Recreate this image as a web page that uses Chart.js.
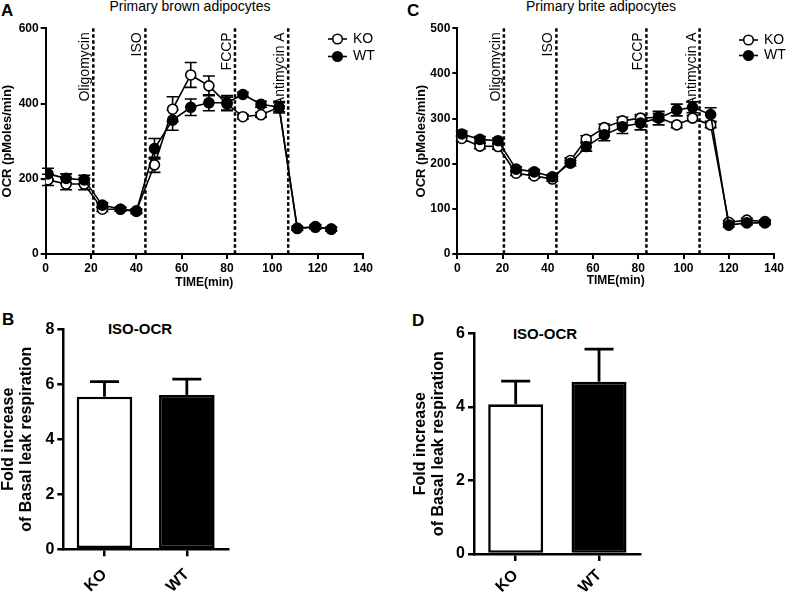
<!DOCTYPE html>
<html>
<head>
<meta charset="utf-8">
<script src="https://cdn.jsdelivr.net/npm/chart.js@4.4.0/dist/chart.umd.min.js"></script>
<style>
  body { margin:0; background:#fff; width:788px; height:594px; position:relative; overflow:hidden;
         font-family:"Liberation Sans", Arial, sans-serif; color:#000; }
  .box { position:absolute; }
  .letter { position:absolute; font-weight:bold; font-size:17px; line-height:1; }
  .ttl { position:absolute; font-size:14px; line-height:1; white-space:nowrap; transform:translateX(-50%); }
  .sub { position:absolute; font-size:15px; font-weight:bold; line-height:1; white-space:nowrap; transform:translateX(-50%); }
</style>
</head>
<body>
<div class="letter" style="left:1px;top:2px">A</div>
<div class="letter" style="left:407px;top:2px">C</div>
<div class="letter" style="left:2px;top:311px">B</div>
<div class="letter" style="left:412px;top:312px">D</div>
<div class="ttl" style="left:190px;top:-1px">Primary brown adipocytes</div>
<div class="ttl" style="left:601px;top:-1px">Primary brite adipocytes</div>
<div class="sub" style="left:140px;top:321px">ISO-OCR</div>
<div class="sub" style="left:545px;top:326px">ISO-OCR</div>

<div class="box" style="left:0;top:0"><canvas id="chartA" width="394" height="300"></canvas></div>
<div class="box" style="left:394px;top:0"><canvas id="chartC" width="394" height="300"></canvas></div>
<div class="box" style="left:0;top:300px"><canvas id="chartB" width="394" height="294"></canvas></div>
<div class="box" style="left:394px;top:300px"><canvas id="chartD" width="394" height="294"></canvas></div>

<script>
// panel A - primary brown adipocytes, OCR over time
var timeA  = [1, 9, 17, 25, 33, 40, 48, 56, 64, 72, 80, 87, 95, 103, 111, 119, 126];
var koA    = [197, 186, 186, 119, 119, 115, 237, 385, 476, 447, 399, 365, 370, 390, 68, 71, 66];
var koErrA = [15, 15, 15, 6, 5, 5, 20, 33, 33, 26, 18, 6, 6, 12, 5, 5, 5];
var wtA    = [213, 201, 197, 130, 119, 113, 280, 356, 390, 402, 402, 424, 398, 390, 68, 73, 66];
var wtErrA = [15, 12, 12, 6, 5, 5, 27, 27, 22, 21, 19, 6, 8, 15, 5, 5, 5];

// panel C - primary brite adipocytes
var timeC  = [2, 10, 18, 26, 34, 42, 50, 57, 65, 73, 81, 89, 97, 104, 112, 120, 128, 136];
var koC    = [256, 239, 238, 179, 173, 166, 207, 254, 280, 295, 301, 303, 286, 301, 286, 70, 75, 72];
var koErrC = [6, 6, 6, 5, 5, 5, 6, 8, 8, 8, 8, 8, 6, 6, 6, 4, 4, 4];
var wtC    = [266, 254, 251, 188, 182, 171, 201, 238, 264, 282, 290, 301, 319, 325, 309, 64, 69, 69];
var wtErrC = [6, 6, 6, 5, 5, 5, 6, 10, 13, 15, 15, 15, 13, 12, 15, 4, 4, 4];

// injection times
var injections = ["Oligomycin", "ISO", "FCCP", "Antimycin A"];
var injTimeA = [21, 44, 83.5, 107];
var injTimeC = [20.6, 43.8, 83.6, 107.1];

// panels B and D - fold increase bars
var groups = ["KO", "WT"];
var foldB = [5.55, 5.61];
var foldErrB = [0.55, 0.58];
var foldD = [4.07, 4.68];
var foldErrD = [0.63, 0.89];

Chart.defaults.font.family = '"Liberation Sans", Arial, sans-serif';
Chart.defaults.color = '#000';

// dashed injection lines + error bars, drawn under the points
var seahorse = {
  id: 'seahorse',
  beforeDatasetsDraw: function(chart, args, opts) {
    var ctx = chart.ctx, area = chart.chartArea;
    var xs = chart.scales.x, ys = chart.scales.y;
    ctx.save();
    ctx.strokeStyle = '#000';
    ctx.fillStyle = '#000';
    ctx.lineWidth = 2.5;
    ctx.setLineDash([3.5, 2.5]);
    opts.inj.forEach(function(t, i) {
      var px = xs.getPixelForValue(t);
      ctx.beginPath();
      ctx.moveTo(px, area.top);
      ctx.lineTo(px, area.bottom);
      ctx.stroke();
      ctx.save();
      ctx.translate(px - 4, area.top + 4);
      ctx.rotate(-Math.PI / 2);
      ctx.font = '14px "Liberation Sans", Arial, sans-serif';
      ctx.textAlign = 'right';
      ctx.textBaseline = 'alphabetic';
      ctx.fillText(injections[i], 0, 0);
      ctx.restore();
    });
    ctx.setLineDash([]);
    ctx.lineWidth = 1.6;
    opts.errs.forEach(function(err, k) {
      var meta = chart.getDatasetMeta(k);
      var vals = chart.data.datasets[k].data;
      meta.data.forEach(function(pt, j) {
        var v = vals[j].y;
        var y1 = ys.getPixelForValue(v + err[j]);
        var y2 = ys.getPixelForValue(v - err[j]);
        ctx.beginPath();
        ctx.moveTo(pt.x, y1); ctx.lineTo(pt.x, y2);
        ctx.moveTo(pt.x - 6, y1); ctx.lineTo(pt.x + 6, y1);
        ctx.moveTo(pt.x - 6, y2); ctx.lineTo(pt.x + 6, y2);
        ctx.stroke();
      });
    });
    ctx.restore();
  },
  afterDraw: function(chart, args, opts) {
    // legend in the top right corner
    var ctx = chart.ctx;
    ctx.save();
    ctx.lineWidth = 1.6;
    ctx.strokeStyle = '#000';
    ctx.font = '14px "Liberation Sans", Arial, sans-serif';
    ctx.textBaseline = 'middle';
    groups.forEach(function(g, i) {
      var y = opts.key.y + i * opts.key.gap, x = opts.key.x;
      ctx.beginPath(); ctx.moveTo(x, y); ctx.lineTo(x + 19, y); ctx.stroke();
      ctx.beginPath(); ctx.arc(x + 9.5, y, 4.8, 0, Math.PI * 2);
      ctx.fillStyle = i === 0 ? '#fff' : '#000';
      ctx.fill(); ctx.stroke();
      ctx.fillStyle = '#000';
      ctx.fillText(g, x + 25, y);
    });
    ctx.restore();
  }
};

function lineChart(id, o) {
  function ds(label, vals, fill, order) {
    return {
      label: label,
      data: o.time.map(function(t, i) { return {x: t, y: vals[i]}; }),
      borderColor: '#000', borderWidth: 1.6,
      pointRadius: 5, pointBorderWidth: 1.6,
      pointBackgroundColor: fill, pointBorderColor: '#000',
      tension: 0, order: order
    };
  }
  return new Chart(document.getElementById(id), {
    type: 'line',
    data: { datasets: [ds('KO', o.ko, '#fff', 1), ds('WT', o.wt, '#000', 0)] },
    options: {
      responsive: false, animation: false,
      layout: { padding: o.pad },
      plugins: {
        legend: { display: false }, tooltip: { enabled: false },
        seahorse: { inj: o.inj, errs: [o.koErr, o.wtErr], key: o.key }
      },
      scales: {
        x: {
          type: 'linear', min: 0, max: 140,
          ticks: { stepSize: 20, font: { weight: 'bold', size: 12 }, padding: 2 },
          grid: { drawOnChartArea: false, color: '#000', lineWidth: 2, tickLength: 5 },
          border: { color: '#000', width: 2 },
          title: { display: true, text: 'TIME(min)', font: { weight: 'bold', size: 12 },
                   padding: { top: 0, bottom: o.xTitlePad } },
          afterFit: function(s) { s.height = o.xH; }
        },
        y: {
          min: 0, max: o.ymax,
          ticks: { stepSize: o.ystep, font: { weight: 'bold', size: 12 }, padding: 2 },
          grid: { drawOnChartArea: false, color: '#000', lineWidth: 2, tickLength: 5 },
          border: { color: '#000', width: 2 },
          title: { display: true, text: 'OCR (pMoles/min)', font: { weight: 'bold', size: 13 },
                   padding: { top: o.yTitlePad, bottom: 0 } },
          afterFit: function(s) { s.width = o.yW; }
        }
      }
    },
    plugins: [seahorse]
  });
}

var barErrors = {
  id: 'barErrors',
  afterDatasetsDraw: function(chart, args, opts) {
    var ctx = chart.ctx, ys = chart.scales.y;
    var meta = chart.getDatasetMeta(0);
    var vals = chart.data.datasets[0].data;
    ctx.save();
    ctx.strokeStyle = '#000';
    ctx.lineWidth = 2.8;
    meta.data.forEach(function(bar, j) {
      var top = ys.getPixelForValue(vals[j] + opts.err[j]);
      ctx.beginPath();
      ctx.moveTo(bar.x, bar.y); ctx.lineTo(bar.x, top);
      ctx.moveTo(bar.x - 14.5, top); ctx.lineTo(bar.x + 14.5, top);
      ctx.stroke();
    });
    ctx.restore();
  }
};

function barChart(id, o) {
  return new Chart(document.getElementById(id), {
    type: 'bar',
    data: {
      labels: groups,
      datasets: [{
        data: o.vals,
        backgroundColor: ['#fff', '#000'],
        borderColor: '#000', borderWidth: 2.6, borderSkipped: false,
        barPercentage: o.bp, categoryPercentage: 1
      }]
    },
    options: {
      responsive: false, animation: false,
      layout: { padding: o.pad },
      plugins: { legend: { display: false }, tooltip: { enabled: false }, barErrors: { err: o.err } },
      scales: {
        x: {
          ticks: { font: { weight: 'bold', size: 16 }, minRotation: 45, maxRotation: 45, padding: o.xLabPad },
          grid: { offset: false, drawOnChartArea: false, color: '#000', lineWidth: 2.5, tickLength: 7 },
          border: { color: '#000', width: 2.5 },
          afterFit: function(s) { s.height = o.xH; }
        },
        y: {
          min: 0, max: o.ymax,
          ticks: { stepSize: 2, font: { weight: 'bold', size: 16 }, padding: 3 },
          grid: { drawOnChartArea: false, color: '#000', lineWidth: 2.5, tickLength: 6 },
          border: { color: '#000', width: 2.5 },
          title: { display: true, text: ['Fold increase', 'of Basal leak respiration'],
                   font: { weight: 'bold', size: 16, lineHeight: 1.1 },
                   padding: { top: o.yTitlePad, bottom: 0 } },
          afterFit: function(s) { s.width = o.yW; }
        }
      }
    },
    plugins: [barErrors]
  });
}

lineChart('chartA', {
  time: timeA, ko: koA, wt: wtA, koErr: koErrA, wtErr: wtErrA, inj: injTimeA,
  ymax: 600, ystep: 200, yW: 45.7, xH: 46, xTitlePad: 10, yTitlePad: 0,
  pad: { left: 0, top: 28.3, right: 31, bottom: 0 },
  key: { x: 328, y: 39, gap: 17.5 }
});

lineChart('chartC', {
  time: timeC, ko: koC, wt: wtC, koErr: koErrC, wtErr: wtErrC, inj: injTimeC,
  ymax: 500, ystep: 100, yW: 63.3, xH: 46, xTitlePad: 12, yTitlePad: 20,
  pad: { left: 0, top: 28.3, right: 14, bottom: 0 },
  key: { x: 345, y: 40, gap: 15.5 }
});

barChart('chartB', {
  vals: foldB, err: foldErrB, ymax: 8, bp: 0.675, yW: 63.3, xH: 44.7, yTitlePad: 0, xLabPad: 9,
  pad: { left: 0, top: 29.3, right: 166, bottom: 0 }
});

barChart('chartD', {
  vals: foldD, err: foldErrD, ymax: 6, bp: 0.66, yW: 80, xH: 40, yTitlePad: 18, xLabPad: 5,
  pad: { left: 0, top: 33.3, right: 147.3, bottom: 0 }
});
</script>
</body>
</html>
